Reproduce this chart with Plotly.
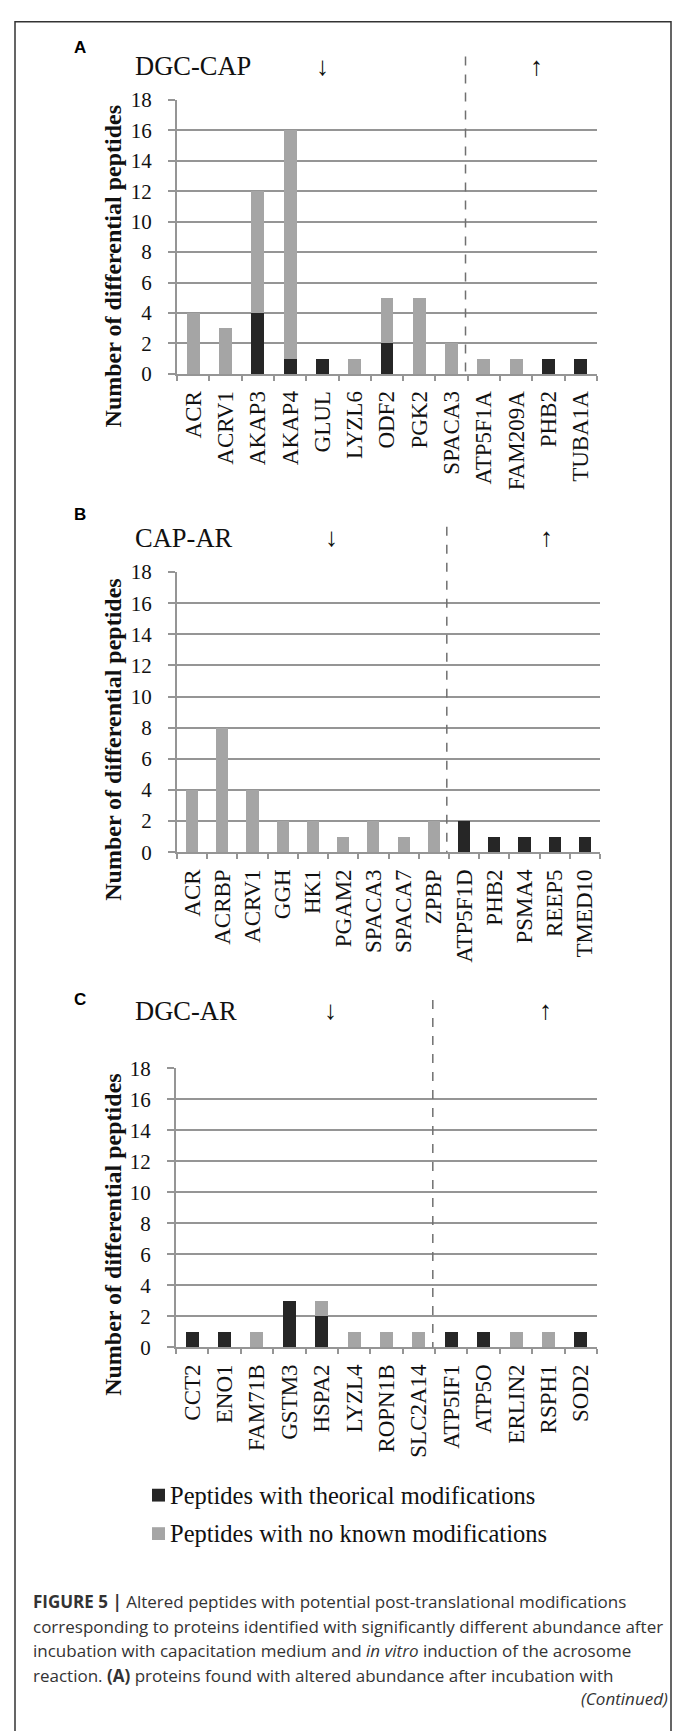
import plotly.graph_objects as go

W, H = 678, 1731

# ---------------- data ----------------
a_proteins = ["ACR", "ACRV1", "AKAP3", "AKAP4", "GLUL", "LYZL6", "ODF2", "PGK2", "SPACA3",
              "ATP5F1A", "FAM209A", "PHB2", "TUBA1A"]
a_modified = [0, 0, 4, 1, 1, 0, 2, 0, 0, 0, 0, 1, 1]
a_unmodified = [4, 3, 8, 15, 0, 1, 3, 5, 2, 1, 1, 0, 0]

b_proteins = ["ACR", "ACRBP", "ACRV1", "GGH", "HK1", "PGAM2", "SPACA3", "SPACA7", "ZPBP",
              "ATP5F1D", "PHB2", "PSMA4", "REEP5", "TMED10"]
b_modified = [0, 0, 0, 0, 0, 0, 0, 0, 0, 2, 1, 1, 1, 1]
b_unmodified = [4, 8, 4, 2, 2, 1, 2, 1, 2, 0, 0, 0, 0, 0]

c_proteins = ["CCT2", "ENO1", "FAM71B", "GSTM3", "HSPA2", "LYZL4", "ROPN1B", "SLC2A14",
              "ATP5IF1", "ATP5O", "ERLIN2", "RSPH1", "SOD2"]
c_modified = [1, 1, 0, 3, 2, 0, 0, 0, 1, 1, 0, 0, 1]
c_unmodified = [0, 0, 1, 0, 1, 1, 1, 1, 0, 0, 1, 1, 0]

panel_letters = ["A", "B", "C"]
comparisons = ["DGC-CAP", "CAP-AR", "DGC-AR"]
n_decreased = [9, 9, 8]
y_tick_values = [0, 2, 4, 6, 8, 10, 12, 14, 16, 18]
y_title = "Number of differential peptides"
legend_labels = ["Peptides with theorical modifications", "Peptides with no known modifications"]

caption_lines = [
    "<b>FIGURE 5 |</b> Altered peptides with potential post-translational modifications",
    "corresponding to proteins identified with significantly different abundance after",
    "incubation with capacitation medium and <i>in vitro</i> induction of the acrosome",
    "reaction. <b>(A)</b> proteins found with altered abundance after incubation with",
]
caption_continued = "<i>(Continued)</i>"

# ---------------- style ----------------
SERIF = "Liberation Serif, Times New Roman, serif"
SANS = "Liberation Sans, Arial, Helvetica, sans-serif"
CAPFONT = "Open Sans, Liberation Sans, Arial, sans-serif"
DARK = "#262626"
LIGHT = "#a5a5a5"
GRID = "#959595"


def px(x):
    return x / W


def py(y):
    return 1 - y / H


panels = [
    dict(prot=a_proteins, mod=a_modified, unmod=a_unmodified,
         xd=(177, 597), yd=(89, 367), letter_y=36, head_y=55, dash_top=45,
         title_y=258, down_x=322, up_x=536),
    dict(prot=b_proteins, mod=b_modified, unmod=b_unmodified,
         xd=(177, 600), yd=(568, 852), letter_y=510, head_y=533, dash_top=522,
         title_y=738, down_x=331, up_x=546),
    dict(prot=c_proteins, mod=c_modified, unmod=c_unmodified,
         xd=(176, 597), yd=(1071, 1354), letter_y=1001, head_y=1013, dash_top=1002,
         title_y=1240, down_x=330, up_x=545),
]

fig = go.Figure()
annotations = []
shapes = []

for i, p in enumerate(panels):
    k = "" if i == 0 else str(i + 1)
    xa, ya = "x" + k, "y" + k
    fig.add_trace(go.Bar(x=p["prot"], y=p["mod"], xaxis=xa, yaxis=ya, width=0.4,
                         marker=dict(color=DARK, line=dict(width=0)),
                         name=legend_labels[0], showlegend=False))
    fig.add_trace(go.Bar(x=p["prot"], y=p["unmod"], xaxis=xa, yaxis=ya, width=0.4,
                         marker=dict(color=LIGHT, line=dict(width=0)),
                         name=legend_labels[1], showlegend=False))
    fig.layout["xaxis" + k] = dict(
        domain=[px(p["xd"][0]), px(p["xd"][1])], anchor=ya,
        type="category", categoryorder="array", categoryarray=p["prot"],
        showline=True, linecolor=GRID, linewidth=2,
        ticks="outside", tickson="boundaries", ticklen=5, tickwidth=2, tickcolor=GRID,
        tickangle=-90, tickfont=dict(family=SERIF, size=23, color="#111"),
        ticklabelstandoff=6, showgrid=False, zeroline=False, fixedrange=True,
    )
    fig.layout["yaxis" + k] = dict(
        domain=[py(p["yd"][1]), py(p["yd"][0])], anchor=xa,
        range=[0, 18], tickvals=y_tick_values,
        showline=True, linecolor=GRID, linewidth=2,
        ticks="outside", ticklen=7, tickwidth=2, tickcolor=GRID,
        showgrid=True, gridcolor=GRID, gridwidth=2,
        tickfont=dict(family=SERIF, size=21, color="#111"),
        ticklabelstandoff=12, zeroline=False, fixedrange=True,
    )
    # panel letter
    annotations.append(dict(x=px(80), y=py(p["letter_y"]), xref="paper", yref="paper",
                            text="<b>%s</b>" % panel_letters[i], showarrow=False,
                            xanchor="center", yanchor="middle",
                            font=dict(family=SANS, size=17, color="#000")))
    # comparison header
    annotations.append(dict(x=px(133), y=py(p["head_y"]), xref="paper", yref="paper",
                            text=comparisons[i], showarrow=False,
                            xanchor="left", yanchor="middle",
                            font=dict(family=SERIF, size=26.5, color="#111")))
    annotations.append(dict(x=px(p["down_x"]), y=py(p["head_y"]), xref="paper", yref="paper",
                            text="\u2193", showarrow=False, xanchor="center", yanchor="middle",
                            font=dict(family=SERIF, size=26, color="#111")))
    annotations.append(dict(x=px(p["up_x"]), y=py(p["head_y"]), xref="paper", yref="paper",
                            text="\u2191", showarrow=False, xanchor="center", yanchor="middle",
                            font=dict(family=SERIF, size=26, color="#111")))
    # y title
    annotations.append(dict(x=px(113), y=py(p["title_y"]), xref="paper", yref="paper",
                            text="<b>%s</b>" % y_title, showarrow=False, textangle=-90,
                            xanchor="center", yanchor="middle",
                            font=dict(family=SERIF, size=24, color="#111")))
    # dashed separator between decreased / increased proteins
    sep = n_decreased[i] - 0.57
    shapes.append(dict(type="line", xref=xa, yref="paper", x0=sep, x1=sep,
                       y0=py(p["dash_top"]), y1=py(p["yd"][1]),
                       line=dict(color="#707070", width=1.5, dash="dash")))

# legend (manual)
leg_rows = [(1504, DARK, legend_labels[0]), (1543, LIGHT, legend_labels[1])]
for yy, col, lab in leg_rows:
    shapes.append(dict(type="rect", xref="paper", yref="paper",
                       x0=px(152), x1=px(165), y0=py(yy + 6.5), y1=py(yy - 6.5),
                       fillcolor=col, line=dict(width=0)))
    annotations.append(dict(x=px(168), y=py(yy), xref="paper", yref="paper", text=lab,
                            showarrow=False, xanchor="left", yanchor="middle",
                            font=dict(family=SERIF, size=24.5, color="#111")))

# caption
cap_y = [1612, 1637, 1662, 1687]
for yy, line in zip(cap_y, caption_lines):
    annotations.append(dict(x=px(31), y=py(yy), xref="paper", yref="paper", text=line,
                            showarrow=False, xanchor="left", yanchor="middle",
                            font=dict(family=CAPFONT, size=17, color="#333")))
annotations.append(dict(x=px(670), y=py(1710), xref="paper", yref="paper",
                        text=caption_continued, showarrow=False, xanchor="right",
                        yanchor="middle", font=dict(family=CAPFONT, size=17, color="#333")))

# outer frame (open at the bottom)
shapes.append(dict(type="path", xref="paper", yref="paper",
                   path="M %f %f L %f %f L %f %f L %f %f" % (
                       px(15), -0.01, px(15), py(10), px(671), py(10), px(671), -0.01),
                   line=dict(color="#333", width=1.5)))

fig.update_layout(
    width=W, height=H, barmode="stack", showlegend=False,
    margin=dict(l=0, r=0, t=0, b=0),
    paper_bgcolor="white", plot_bgcolor="white",
    annotations=annotations, shapes=shapes,
)

fig.write_html("out.html", config={"displayModeBar": False},
               post_script="document.body.style.margin='0';document.body.style.overflow='hidden';")
